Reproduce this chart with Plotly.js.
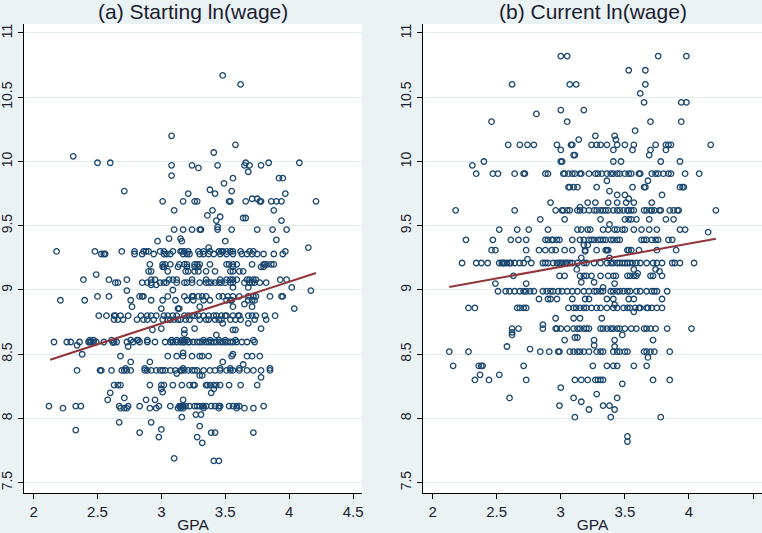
<!DOCTYPE html>
<html>
<head>
<meta charset="utf-8">
<script src="https://cdn.plot.ly/plotly-3.0.1.min.js"></script>
<style>
  html, body { margin: 0; padding: 0; background: #EAF2F3; }
  #chart { width: 762px; height: 533px; }
</style>
</head>
<body>
<div id="chart"></div>
<script>
// GPA vs ln(wage), two panels with linear fit

const yTicks = [7.5, 8, 8.5, 9, 9.5, 10, 10.5, 11];
const xTicks = [2, 2.5, 3, 3.5, 4, 4.5];

// ---- (a) Starting ln(wage): wage levels that many students share ----
const startLevels = [9.30, 9.28, 9.20, 9.18, 9.145, 9.08, 9.057, 8.95, 8.92, 8.80, 8.77,
  8.61, 8.595, 8.485, 8.39, 8.374, 8.26, 8.096, 8.08, 9.47, 9.69];
const startRowGpa = [
  [2.18, 2.48, 2.69, 2.79, 2.86, 2.88, 2.90, 2.99, 3.02, 3.09, 3.15, 3.16, 3.18, 3.21, 3.29, 3.33, 3.38, 3.45, 3.47, 3.48, 3.51, 3.54, 3.56, 3.62, 3.69, 3.72, 3.97],
  [2.53, 2.55, 2.56, 2.79, 2.85, 2.94, 3.02, 3.04, 3.07, 3.17, 3.20, 3.22, 3.30, 3.33, 3.37, 3.41, 3.46, 3.51, 3.56, 3.63, 3.67, 3.71, 3.75, 3.80, 3.88, 3.95],
  [2.91, 3.01, 3.03, 3.07, 3.14, 3.18, 3.20, 3.26, 3.28, 3.30, 3.38, 3.51, 3.53, 3.56, 3.59, 3.71, 3.80, 3.81, 3.83, 3.86, 3.88],
  [3.01, 3.02, 3.13, 3.20, 3.26, 3.29, 3.56, 3.78, 3.80],
  [2.90, 2.92, 3.05, 3.19, 3.21, 3.26, 3.29, 3.35, 3.42, 3.54, 3.56, 3.61, 3.64],
  [2.39, 2.59, 2.73, 2.92, 2.95, 3.06, 3.09, 3.12, 3.24, 3.35, 3.46, 3.51, 3.54, 3.56, 3.59, 3.67, 3.69, 3.72, 3.74, 3.93, 3.98],
  [2.64, 2.66, 2.85, 2.89, 2.92, 2.99, 3.02, 3.04, 3.12, 3.18, 3.20, 3.24, 3.30, 3.35, 3.37, 3.39, 3.42, 3.45, 3.47, 3.50, 3.54, 3.56, 3.65, 3.69, 3.71, 3.73, 3.77, 3.82],
  [2.50, 2.59, 2.83, 2.85, 2.86, 3.05, 3.18, 3.24, 3.25, 3.29, 3.32, 3.35, 3.45, 3.48, 3.52, 3.56, 3.61, 3.68, 3.72, 3.74, 3.85, 3.94, 3.95],
  [2.21, 2.40, 2.76, 2.92, 3.01, 3.11, 3.20, 3.25, 3.33, 3.38, 3.51, 3.54, 3.55, 3.68, 3.71, 3.73],
  [2.51, 2.57, 2.63, 2.64, 2.68, 2.74, 2.84, 2.89, 2.92, 2.96, 3.02, 3.05, 3.09, 3.12, 3.18, 3.21, 3.24, 3.26, 3.29, 3.33, 3.37, 3.41, 3.43, 3.47, 3.50, 3.51, 3.56, 3.60, 3.61, 3.68, 3.71, 3.74, 3.81, 3.89],
  [2.63, 2.66, 2.70, 2.81, 2.86, 2.89, 2.94, 3.01, 3.05, 3.07, 3.10, 3.13, 3.15, 3.19, 3.22, 3.30, 3.35, 3.37, 3.42, 3.45, 3.47, 3.54, 3.58, 3.62, 3.73, 3.82],
  [2.44, 2.47, 2.61, 2.76, 2.81, 2.82, 2.89, 3.08, 3.12, 3.16, 3.18, 3.20, 3.33, 3.38, 3.45, 3.50, 3.58, 3.72],
  [2.16, 2.26, 2.29, 2.36, 2.43, 2.44, 2.45, 2.47, 2.49, 2.55, 2.63, 2.65, 2.73, 2.78, 2.83, 2.89, 2.95, 3.03, 3.07, 3.09, 3.12, 3.15, 3.17, 3.18, 3.21, 3.22, 3.25, 3.28, 3.30, 3.32, 3.35, 3.37, 3.39, 3.41, 3.43, 3.46, 3.48, 3.50, 3.52, 3.54, 3.56, 3.59, 3.63, 3.67, 3.73],
  [2.68, 3.05, 3.12, 3.17, 3.24, 3.30, 3.32, 3.37, 3.55, 3.67, 3.71, 3.77],
  [2.72, 2.87, 3.17, 3.46, 3.61, 3.85],
  [2.34, 2.52, 2.53, 2.61, 2.69, 2.71, 2.73, 2.76, 2.87, 2.89, 2.92, 2.96, 2.99, 3.01, 3.03, 3.07, 3.11, 3.15, 3.16, 3.18, 3.21, 3.24, 3.26, 3.28, 3.33, 3.38, 3.42, 3.46, 3.51, 3.54, 3.56, 3.61, 3.67, 3.72, 3.78, 3.85],
  [2.63, 2.66, 2.68, 2.91, 3.00, 3.02, 3.09, 3.16, 3.22, 3.25, 3.26, 3.35, 3.36, 3.38, 3.41, 3.43, 3.46, 3.53, 3.62, 3.75],
  [2.12, 2.33, 2.37, 2.67, 2.74, 2.83, 2.98, 3.07, 3.14, 3.15, 3.16, 3.17, 3.19, 3.22, 3.26, 3.28, 3.30, 3.32, 3.33, 3.35, 3.39, 3.42, 3.45, 3.46, 3.53, 3.56, 3.59, 3.61, 3.80],
  [2.23, 2.68, 2.71, 2.73, 2.91, 2.96, 3.13, 3.15, 3.17, 3.33, 3.45, 3.59, 3.65, 3.72],
  [3.10, 3.17, 3.24, 3.30, 3.31, 3.44, 3.55, 3.75, 3.87, 3.98],
  [3.01, 3.17, 3.26, 3.28, 3.53, 3.54, 3.66, 3.77, 3.78, 3.86, 3.90, 3.94, 4.21]
];
// points off the shared levels
const startLoneGpa = [3.48, 3.62, 3.08, 3.58, 2.31, 3.41, 2.50, 2.60, 3.08, 3.24, 3.29, 3.44, 3.66, 3.65, 3.69, 3.68, 3.78, 3.84, 4.08, 3.08,
  2.71, 3.49, 3.56, 3.92, 3.95, 3.38, 3.42, 3.21, 3.55, 3.97, 3.71, 3.75, 3.10, 3.40, 3.36, 3.46, 3.43, 3.64, 3.66, 3.88,
  3.94, 3.44, 2.97, 3.06, 3.15, 3.16, 3.50, 3.90, 3.37, 4.15, 2.49,
  4.02, 4.17, 2.73, 2.92, 2.96, 3.09, 3.68, 3.56, 2.77, 3.00, 3.13, 3.14, 3.30, 3.56, 3.71, 4.04, 3.65, 3.48, 3.68, 2.93,
  3.00, 3.18, 3.26, 3.56, 3.78, 3.18, 3.43, 3.58, 2.34, 2.38, 2.74, 2.62, 3.56, 3.17, 2.76, 2.91, 3.48, 3.64, 3.78, 3.30,
  3.54, 3.12, 3.32,
  2.60, 2.58, 2.71, 2.88, 2.95, 3.00, 3.39, 3.17, 3.41, 3.01, 3.16, 2.67, 2.33, 2.92, 3.00, 3.30, 2.83, 3.39, 3.42, 3.72,
  2.98, 3.28, 3.32, 3.27, 3.31, 3.10, 3.41, 3.45];
const startLoneWage = [10.67, 10.60, 10.20, 10.13, 10.04, 10.07, 9.99, 9.99, 9.97, 9.97, 9.95, 9.97, 9.99, 9.97, 9.97, 9.92, 9.97, 9.99, 9.99, 9.89,
  9.77, 9.83, 9.87, 9.87, 9.87, 9.78, 9.75, 9.75, 9.77, 9.75, 9.71, 9.71, 9.62, 9.62, 9.58, 9.57, 9.54, 9.56, 9.56, 9.62,
  9.54, 9.49, 9.38, 9.40, 9.40, 9.38, 9.38, 9.39, 9.33, 9.33, 9.12,
  9.02, 8.995, 8.995, 9.04, 9.04, 9.00, 9.02, 9.02, 8.87, 8.855, 8.855, 8.855, 8.87, 8.87, 8.87, 8.855, 8.89, 8.74, 8.74, 8.69,
  8.70, 8.69, 8.70, 8.69, 8.70, 8.66, 8.65, 8.69, 8.57, 8.50, 8.56, 8.59, 8.50, 8.51, 8.44, 8.44, 8.44, 8.42, 8.32, 8.335,
  8.39, 8.35, 8.335,
  8.20, 8.145, 8.16, 8.145, 8.145, 8.23, 8.20, 8.145, 8.23, 8.205, 8.01, 7.97, 7.91, 7.97, 7.915, 7.94, 7.89, 7.89, 7.89, 7.89,
  7.855, 7.855, 7.81, 8.03, 8.03, 7.69, 7.67, 7.67];
const startFitGpa = [2.13, 4.21];
const startFitWage = [8.457, 9.132];

// ---- (b) Current ln(wage) ----
const currentLevels = [10.82, 10.71, 10.60, 10.46, 10.40, 10.31, 10.13, 10.09, 10.05, 10.00, 9.905, 9.80, 9.68,
  9.62, 9.55, 9.47, 9.39, 9.31, 9.21, 9.11, 8.99, 8.93, 8.86, 8.78, 8.70, 8.52, 8.41, 8.30];
const currentRowGpa = [
  [3.00, 3.05, 3.76, 3.98],
  [3.53, 3.66],
  [2.62, 3.07, 3.12, 3.66],
  [3.65, 3.94, 3.98],
  [3.00, 3.18],
  [2.46, 3.05, 3.70, 3.94],
  [2.59, 2.68, 2.74, 2.79, 2.97, 3.08, 3.09, 3.24, 3.28, 3.31, 3.36, 3.44, 3.50, 3.57, 3.74, 3.82, 3.84, 3.86, 4.17],
  [3.00, 3.41, 3.56, 3.70, 3.82],
  [3.10, 3.11, 3.69],
  [3.00, 3.01, 3.41, 3.47, 3.78, 3.93],
  [2.34, 2.47, 2.51, 2.64, 2.71, 2.72, 2.88, 2.90, 3.02, 3.03, 3.06, 3.09, 3.11, 3.15, 3.16, 3.22, 3.27, 3.29, 3.32, 3.36,
   3.39, 3.41, 3.44, 3.46, 3.50, 3.53, 3.55, 3.61, 3.62, 3.71, 3.74, 3.76, 3.80, 3.84, 3.86, 3.97, 4.08],
  [3.06, 3.07, 3.10, 3.13, 3.28, 3.56, 3.65, 3.66, 3.93, 3.95, 3.96],
  [2.92, 3.21, 3.27, 3.37, 3.44, 3.51, 3.57, 3.71],
  [2.96, 3.01, 3.02, 3.05, 3.07, 3.13, 3.15, 3.18, 3.22, 3.26, 3.28, 3.31, 3.33, 3.35, 3.37, 3.41, 3.44, 3.46, 3.49, 3.52,
   3.53, 3.55, 3.57, 3.65, 3.67, 3.70, 3.71, 3.73, 3.77, 3.78, 3.85, 3.88, 3.91, 3.92, 4.21],
  [2.84, 3.03, 3.31, 3.50, 3.53, 3.55, 3.59, 3.69, 3.82, 3.88],
  [2.52, 2.66, 2.75, 2.90, 3.13, 3.16, 3.21, 3.23, 3.33, 3.37, 3.42, 3.44, 3.48, 3.50, 3.57, 3.63, 3.69, 3.75, 3.93, 3.97],
  [2.26, 2.47, 2.61, 2.67, 2.73, 2.88, 2.90, 2.93, 2.94, 2.97, 2.99, 3.09, 3.15, 3.18, 3.22, 3.24, 3.26, 3.29, 3.31, 3.33,
   3.35, 3.39, 3.41, 3.44, 3.46, 3.63, 3.65, 3.67, 3.71, 3.74, 3.76, 3.84, 3.87],
  [2.46, 2.49, 2.73, 2.83, 2.88, 2.93, 2.96, 3.03, 3.09, 3.19, 3.28, 3.35, 3.36, 3.37, 3.52, 3.53, 3.55, 3.61, 3.75, 3.90],
  [2.23, 2.34, 2.38, 2.43, 2.52, 2.54, 2.55, 2.56, 2.58, 2.60, 2.61, 2.64, 2.68, 2.71, 2.77, 2.86, 2.88, 2.90, 2.94, 2.97,
   2.99, 3.00, 3.02, 3.04, 3.05, 3.07, 3.09, 3.13, 3.18, 3.20, 3.26, 3.31, 3.36, 3.39, 3.41, 3.44, 3.46, 3.48, 3.50, 3.52,
   3.54, 3.56, 3.59, 3.62, 3.67, 3.72, 3.75, 3.79, 3.87, 3.89, 3.93, 4.04],
  [2.63, 2.99, 3.03, 3.15, 3.18, 3.20, 3.24, 3.31, 3.37, 3.41, 3.43, 3.52, 3.54, 3.57, 3.59, 3.70, 3.72, 3.79],
  [2.51, 2.57, 2.60, 2.64, 2.68, 2.71, 2.73, 2.76, 2.79, 2.86, 2.89, 2.92, 2.94, 2.98, 3.01, 3.05, 3.09, 3.13, 3.18, 3.22,
   3.26, 3.28, 3.31, 3.33, 3.39, 3.41, 3.44, 3.46, 3.49, 3.52, 3.54, 3.59, 3.62, 3.67, 3.71, 3.73, 3.75, 3.83],
  [2.83, 2.90, 2.92, 2.97, 3.09, 3.19, 3.22, 3.36, 3.41, 3.53, 3.57, 3.79],
  [2.28, 2.33, 2.66, 2.68, 2.71, 2.73, 3.06, 3.10, 3.12, 3.15, 3.18, 3.20, 3.24, 3.28, 3.31, 3.36, 3.41, 3.44, 3.49, 3.52,
   3.54, 3.58, 3.61, 3.62, 3.67, 3.68, 3.71, 3.75, 3.79],
  [2.96, 3.10, 3.15, 3.32],
  [2.62, 2.67, 2.86, 2.96, 2.97, 3.00, 3.05, 3.10, 3.13, 3.15, 3.18, 3.20, 3.22, 3.31, 3.33, 3.36, 3.39, 3.41, 3.44, 3.46,
   3.50, 3.55, 3.59, 3.65, 3.67, 3.70, 3.74, 3.83, 4.02],
  [2.13, 2.28, 2.84, 2.91, 2.98, 2.99, 3.07, 3.10, 3.13, 3.15, 3.18, 3.22, 3.28, 3.31, 3.33, 3.41, 3.44, 3.46, 3.50, 3.52,
   3.65, 3.67, 3.70, 3.73, 3.85],
  [2.16, 2.36, 2.38, 2.39, 2.71, 3.25, 3.36, 3.41, 3.44, 3.57, 3.67],
  [2.33, 2.44, 2.73, 3.11, 3.16, 3.21, 3.27, 3.29, 3.31, 3.33, 3.72, 3.85]
];
const currentLoneGpa = [3.62, 2.81, 3.58, 3.27, 3.42, 3.14, 3.43, 2.31, 2.40, 3.36, 3.68, 3.38, 3.44, 3.50, 3.79, 3.53, 3.15, 2.18, 2.64, 4.15,
  3.38, 3.18, 3.21, 3.19, 2.74, 3.16, 3.38,
  3.125, 3.57, 3.74, 3.77, 3.60, 2.49, 2.73, 3.16, 3.26, 3.33, 3.42, 3.42, 3.57, 2.86, 2.62, 2.62, 3.48, 3.03, 3.11,
  3.26, 3.42, 3.72, 3.26, 3.42, 2.58, 2.76, 3.13, 3.68, 2.37, 2.52,
  3.00, 3.48, 3.28, 2.60, 3.10, 3.16, 3.44, 2.99, 3.33, 3.38, 3.22, 3.42, 3.11, 3.39, 3.78, 3.52, 3.52];
const currentLoneWage = [10.53, 10.37, 10.24, 10.20, 10.20, 10.17, 10.17, 9.97, 10.00, 9.85, 9.85, 9.77, 9.74, 9.74, 9.74, 9.71, 9.645, 9.62, 9.62, 9.45,
  9.51, 9.35, 9.35, 9.30, 9.24, 9.25, 9.25,
  9.16, 9.16, 9.16, 9.145, 9.13, 9.05, 9.05, 9.06, 9.06, 9.02, 9.05, 8.886, 8.83, 8.73, 8.67, 8.65, 8.65, 8.61, 8.63,
  8.61, 8.61, 8.61, 8.57, 8.56, 8.56, 8.54, 8.63, 8.475, 8.34, 8.34,
  8.24, 8.27, 8.19, 8.16, 8.16, 8.13, 8.16, 8.10, 8.10, 8.10, 8.07, 8.07, 8.01, 8.01, 8.01, 7.86, 7.82];
const currentFitGpa = [2.13, 4.21];
const currentFitWage = [9.023, 9.399];

// ------------------------------------------------------------
function collectPoints(levels, rows, loneX, loneY) {
  const x = [], y = [];
  rows.forEach((row, i) => row.forEach(g => { x.push(g); y.push(levels[i]); }));
  loneX.forEach((g, i) => { x.push(g); y.push(loneY[i]); });
  return { x, y };
}

const navy = '#1A476F';
const maroon = '#90353B';
const ink = '#1b2030';
const font = 'Liberation Sans, Arial, sans-serif';

function scatterTrace(pts, xa, ya) {
  return {
    type: 'scatter', mode: 'markers', x: pts.x, y: pts.y, xaxis: xa, yaxis: ya,
    marker: { symbol: 'circle-open', size: 5.5, color: navy, line: { color: navy, width: 1.3 } },
    hoverinfo: 'skip', showlegend: false
  };
}

function fitTrace(gx, wy, xa, ya) {
  return {
    type: 'scatter', mode: 'lines', x: gx, y: wy, xaxis: xa, yaxis: ya,
    line: { color: maroon, width: 2 }, hoverinfo: 'skip', showlegend: false
  };
}

const startPts = collectPoints(startLevels, startRowGpa, startLoneGpa, startLoneWage);
const currentPts = collectPoints(currentLevels, currentRowGpa, currentLoneGpa, currentLoneWage);

function xAxis(domain) {
  return {
    domain: domain, range: [1.925, 4.57], tickvals: xTicks, ticktext: xTicks.map(String),
    showgrid: false, zeroline: false, showline: true, linecolor: '#000', linewidth: 1,
    ticks: 'outside', ticklen: 5, tickcolor: '#000',
    tickfont: { family: font, size: 15, color: ink },
    title: { text: 'GPA', font: { family: font, size: 15.5, color: ink }, standoff: 6 }
  };
}

function yAxis(anchor) {
  return {
    anchor: anchor, domain: [0, 1], range: [7.42, 11.07], tickvals: yTicks, ticktext: yTicks.map(String),
    tickangle: -90, showgrid: true, gridcolor: '#E2ECEE', gridwidth: 1, zeroline: false,
    showline: true, linecolor: '#000', linewidth: 1,
    ticks: 'outside', ticklen: 5, tickcolor: '#000',
    tickfont: { family: font, size: 14, color: ink }
  };
}

const layout = {
  width: 762, height: 533,
  margin: { t: 24, r: 0, b: 40, l: 0 },
  paper_bgcolor: '#EAF2F3', plot_bgcolor: '#FFFFFF',
  xaxis: Object.assign(xAxis([24 / 762, 362 / 762]), { anchor: 'y' }),
  yaxis: yAxis('x'),
  xaxis2: Object.assign(xAxis([423 / 762, 1]), { anchor: 'y2' }),
  yaxis2: yAxis('x2'),
  annotations: [
    { text: '(a) Starting ln(wage)', xref: 'paper', yref: 'paper', x: 193 / 762, y: 1.026,
      xanchor: 'center', yanchor: 'middle', showarrow: false, font: { family: font, size: 21, color: ink } },
    { text: '(b) Current ln(wage)', xref: 'paper', yref: 'paper', x: 592.5 / 762, y: 1.026,
      xanchor: 'center', yanchor: 'middle', showarrow: false, font: { family: font, size: 21, color: ink } }
  ],
  showlegend: false
};

Plotly.newPlot('chart', [
  scatterTrace(startPts, 'x', 'y'),
  fitTrace(startFitGpa, startFitWage, 'x', 'y'),
  scatterTrace(currentPts, 'x2', 'y2'),
  fitTrace(currentFitGpa, currentFitWage, 'x2', 'y2')
], layout, { displayModeBar: false, staticPlot: true });
</script>
</body>
</html>
